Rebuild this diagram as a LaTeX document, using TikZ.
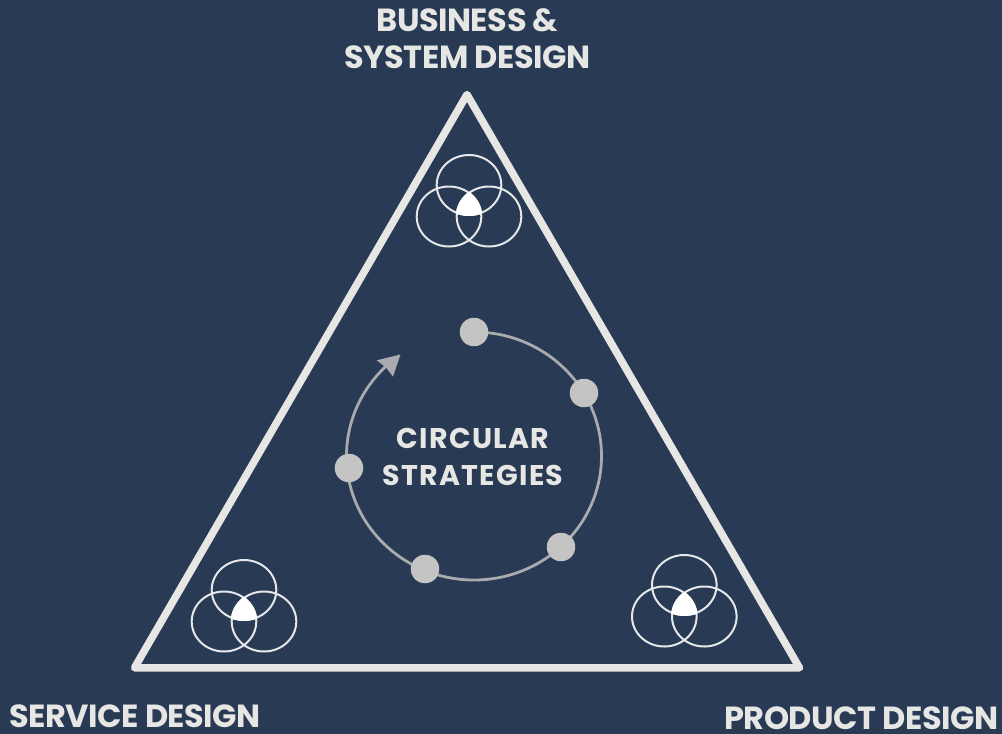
\documentclass[tikz,border=0pt]{standalone}
\usepackage{fontspec}
\setmainfont{Poppins}
\newfontfamily\labelfont[LetterSpace=-1.5]{Poppins}
\newfontfamily\midfont[LetterSpace=4.5]{Poppins}
\definecolor{bgc}{HTML}{283A54}
\definecolor{tri}{HTML}{E6E6E4}
\definecolor{dotc}{HTML}{C4C4C4}
\definecolor{arcc}{HTML}{A9ABAE}
\tikzset{
  x=1pt,y=-1pt,
  lab/.style={text=tri,font=\labelfont\bfseries\fontsize{32}{37}\selectfont,inner sep=0pt,anchor=base},
  mid/.style={text=tri,font=\midfont\bfseries\fontsize{28.5}{37}\selectfont,align=center,inner sep=0pt},
  dot/.style={circle,fill=dotc,minimum size=28.5pt,inner sep=0pt},
  ring/.style={draw=white!88!bgc,line width=2pt},
  venncirc/.style={x radius=32.3,y radius=30},
}
\newcommand{\venn}[2]{%
  \begin{scope}[shift={(#1,#2)}]
    \draw[ring] (0,-31.5) circle[venncirc];
    \draw[ring] (-20,0) circle[venncirc];
    \draw[ring] (20,0) circle[venncirc];
    \begin{scope}
      \clip (0,-31.5) circle[x radius=33.3,y radius=31];
      \clip (-20,0) circle[x radius=33.3,y radius=31];
      \fill[white] (20,0) circle[x radius=33.3,y radius=31];
    \end{scope}
  \end{scope}}
\begin{document}
\begin{tikzpicture}
\useasboundingbox[fill=bgc] (0,0) rectangle (1002,734);
\draw[tri,line width=7.5pt,line join=round] (467,94.5) -- (799.5,667.8) -- (134.5,667.8) -- cycle;
\venn{469}{216.5}
\venn{244}{621.5}
\venn{684.3}{616.5}
\draw[arcc,line width=2.8pt] (474,332) arc[start angle=-90,end angle=227,x radius=127.5,y radius=124];
\fill[arcc] (400.5,354.5) -- (376.7,360.3) -- (386,367.5) -- (393,376.7) -- cycle;
\node[dot] (d1) at (474,332) {};
\node[dot] (d2) at (584,393) {};
\node[dot] (d3) at (561,547) {};
\node[dot] (d4) at (425,569) {};
\node[dot] (d5) at (349,468) {};
\node[lab] (top1) at (467.5,31) {BUSINESS \&};
\node[lab] (top2) at (467.5,68) {SYSTEM DESIGN};
\node[lab] (sd) at (135,727) {SERVICE DESIGN};
\node[lab] (pd) at (861.5,729) {PRODUCT DESIGN};
\node[mid] (c) at (473,457) {CIRCULAR\\STRATEGIES};
\end{tikzpicture}
\end{document}
